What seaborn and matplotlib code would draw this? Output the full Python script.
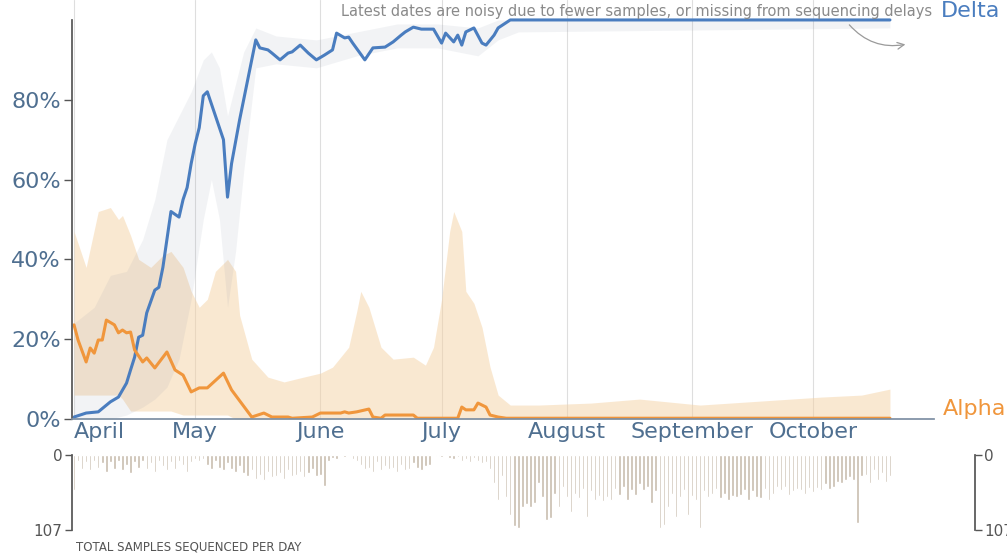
import pandas as pd
import matplotlib.pyplot as plt
import matplotlib.dates as mdates
import seaborn as sns

sns.set_theme(style="white")
plt.rcParams["font.family"] = ["DejaVu Sans"]

# === Data (days counted from 1 April) ===
start = pd.Timestamp("2021-04-01")

delta_day = [0, 3, 6, 9, 11, 13, 14, 15, 16, 17, 18, 20, 21, 22, 23, 24, 26, 27, 28, 29,
             30, 31, 32, 33, 34, 37, 38, 39, 41, 43, 45, 46, 48, 49, 51, 53, 54, 56, 58, 60,
             62, 64, 65, 67, 68, 69, 72, 74, 77, 79, 81, 82, 84, 86, 89, 91, 92, 94, 95, 96,
             97, 99, 101, 102, 104, 105, 108, 110, 202]
delta_pct = [0.5, 1.5, 1.8, 4.3, 5.5, 9, 12.3, 15.5, 20.5, 21, 26.6, 32.3, 33, 38, 45, 52, 50.6, 55, 58, 64,
             69, 73, 81, 82, 79, 70, 55.6, 64, 75, 85, 95, 93, 92.5, 91.7, 90, 91.7, 92, 93.7, 91.7, 90,
             91.2, 92.5, 96.7, 95.5, 95.7, 94.2, 90, 93, 93.2, 94.5, 96.2, 97, 98.2, 97.7, 97.7, 94.2, 96.7, 94.5, 96.2, 93.7,
             97, 98, 94.2, 93.7, 96.2, 98, 100, 100, 100]

alpha_day = [0, 1, 3, 4, 5, 6, 7, 8, 10, 11, 12, 13, 14, 15, 17, 18, 20, 23, 25, 27,
             29, 31, 33, 37, 39, 44, 47, 49, 53, 54, 59, 61, 66, 67, 68, 70, 73, 74, 76, 77,
             84, 85, 95, 96, 97, 99, 100, 102, 103, 105, 107, 202]
alpha_pct = [23.6, 19.8, 14.3, 17.8, 16.5, 19.8, 19.8, 24.8, 23.6, 21.6, 22.3, 21.6, 21.8, 17.3, 14.3, 15.3, 12.8, 16.8, 12.3, 11,
             6.8, 7.8, 7.8, 11.5, 7.3, 0.5, 1.5, 0.5, 0.5, 0.2, 0.5, 1.5, 1.5, 1.8, 1.5, 1.8, 2.5, 0.5, 0.2, 1,
             1, 0.2, 0.2, 3, 2.3, 2.3, 4, 3, 1, 0.5, 0.2, 0.2]

alpha_ci_day = [0, 3, 6, 9, 11, 12, 14, 16, 19, 22, 24, 27, 29, 31, 33, 35, 38, 40, 41, 44,
                48, 52, 56, 61, 64, 68, 70, 71, 73, 76, 79, 84, 87, 89, 91, 93, 94, 96, 97, 99,
                101, 103, 105, 108, 115, 128, 140, 155, 170, 185, 195, 202]
alpha_ci_lo = [6, 6, 6, 6, 6, 5, 2, 2, 2, 2, 2, 1, 1, 1, 1, 1, 1, 0, 0, 0,
               0, 0, 0, 0, 0, 0, 0, 0, 0, 0, 0, 0, 0, 0, 0, 0, 0, 0, 0, 0,
               0, 0, 0, 0, 0, 0, 0, 0, 0, 0, 0, 0]
alpha_ci_hi = [47, 38, 52, 53, 50, 51, 46, 40, 38, 41, 42, 38, 32, 28, 30, 37, 40, 37, 26, 15,
               10.5, 9.3, 10.3, 11.5, 13, 18, 27, 32, 28, 18, 15, 15.5, 13.5, 18, 30, 47, 52, 47, 32, 29,
               23, 13, 6, 3.5, 3.5, 4, 5, 3.5, 4.5, 5.5, 6, 7.5]

delta_ci_day = [0, 5, 9, 13, 17, 20, 23, 26, 29, 32, 34, 36, 38, 40, 42, 45, 50, 60, 70, 80,
                90, 100, 105, 110, 202]
delta_ci_lo = [0, 0, 0, 1, 3, 5, 8, 15, 30, 50, 60, 50, 28, 42, 62, 88, 89, 88, 91, 93,
               93, 91, 95, 97, 98]
delta_ci_hi = [24, 28, 36, 37, 45, 55, 70, 76, 82, 90, 92, 88, 76, 84, 92, 98, 96, 95, 97, 99,
               99, 98, 100, 100, 100]

# total samples sequenced per day, 1 April .. 21 October
samples_apr = [50, 8, 20, 10, 22, 9, 18, 12, 24, 10, 20, 8, 22, 14, 26, 10, 18, 8, 20, 12,
               24, 9, 16, 22, 10, 20, 8, 14, 24, 10]
samples_may = [6, 8, 5, 14, 20, 9, 18, 22, 12, 20, 24, 16, 26, 30, 22, 34, 28, 36, 24, 32,
               30, 26, 34, 22, 30, 28, 24, 32, 26, 20, 30]
samples_jun = [28, 44, 8, 4, 6, 0, 3, 0, 5, 8, 14, 20, 18, 24, 10, 22, 16, 20, 18, 24,
               14, 22, 20, 12, 18, 22, 16, 14, 0, 2]
samples_jul = [3, 0, 4, 5, 3, 8, 6, 10, 4, 8, 12, 10, 20, 40, 64, 30, 60, 85, 102, 104,
               74, 70, 74, 68, 40, 60, 93, 90, 55, 74, 45]
samples_aug = [60, 82, 55, 62, 48, 88, 52, 64, 58, 66, 60, 64, 48, 57, 45, 64, 50, 57, 42, 50,
               46, 69, 52, 104, 100, 74, 55, 88, 60, 50, 86]
samples_sep = [58, 64, 104, 52, 60, 55, 48, 62, 55, 64, 58, 60, 57, 50, 64, 52, 60, 62, 48, 64,
               55, 45, 50, 45, 57, 52, 48, 50, 55, 47]
samples_oct = [53, 47, 50, 42, 48, 45, 38, 40, 35, 31, 36, 97, 30, 28, 40, 22, 36, 25, 38, 30]

months = ["April", "May", "June", "July", "August", "September", "October"]
month_starts = ["2021-04-01", "2021-05-01", "2021-06-01", "2021-07-01",
                "2021-08-01", "2021-09-01", "2021-10-01"]

BLUE = "#4a7dbf"
ORANGE = "#f0963c"
TICK = "#4f6f90"


def to_dates(days):
    return start + pd.to_timedelta(days, unit="D")


def day(d):
    return to_dates([d])[0]


samples = samples_apr + samples_may + samples_jun + samples_jul + samples_aug + samples_sep + samples_oct
sample_dates = to_dates(list(range(len(samples))))

delta_df = pd.DataFrame({"date": to_dates(delta_day), "pct": delta_pct})
alpha_df = pd.DataFrame({"date": to_dates(alpha_day), "pct": alpha_pct})

fig = plt.figure(figsize=(10.07, 5.59), dpi=100)
ax = fig.add_axes([0.0715, 0.2504, 0.8965, 0.7496])
bx = fig.add_axes([0.0715, 0.0519, 0.8965, 0.134])

x_min = day(-0.5)
x_max = day(223)

# === Main panel: uncertainty bands ===
ax.fill_between(to_dates(alpha_ci_day), alpha_ci_lo, alpha_ci_hi,
                color="#f5d2a4", alpha=0.5, lw=0)
ax.fill_between(to_dates(delta_ci_day), delta_ci_lo, delta_ci_hi,
                color="#76839a", alpha=0.09, lw=0)

# === lines ===
sns.lineplot(data=delta_df, x="date", y="pct", ax=ax, color=BLUE, lw=2.2)
sns.lineplot(data=alpha_df, x="date", y="pct", ax=ax, color=ORANGE, lw=2.2)

ax.set_xlim(x_min, x_max)
ax.set_ylim(0, 105)
ax.set_xlabel("")
ax.set_ylabel("")

ax.set_xticks(pd.to_datetime(month_starts))
ax.set_xticklabels(months, fontsize=16, color=TICK)
ax.get_xticklabels()[0].set_ha("left")
ax.tick_params(axis="x", length=0, pad=2)
ax.grid(axis="x", color="#dedede", lw=0.8)

ax.set_yticks([0, 20, 40, 60, 80])
ax.set_yticklabels(["0%", "20%", "40%", "60%", "80%"], fontsize=16, color=TICK)
ax.tick_params(axis="y", left=True, length=6, width=1, color="#555555", pad=2)

for side in ["top", "right"]:
    ax.spines[side].set_visible(False)
ax.spines["left"].set_color("#555555")
ax.spines["left"].set_bounds(0, 100)
ax.spines["bottom"].set_color("#7d8fa3")
ax.spines["bottom"].set_bounds(mdates.date2num(x_min), mdates.date2num(day(213)))

# labels and note
ax.text(day(214.5), 102.3, "Delta", color=BLUE, fontsize=16, va="center", ha="left")
ax.text(day(215), 2.5, "Alpha", color=ORANGE, fontsize=16, va="center", ha="left")
ax.text(day(212.5), 102, "Latest dates are noisy due to fewer samples, or missing from sequencing delays",
        color="#8a8a8a", fontsize=10.5, va="center", ha="right")
ax.annotate("", xy=(day(206.5), 94), xytext=(day(191.5), 99.3),
            arrowprops=dict(arrowstyle="->", color="#9a9a9a", lw=0.9,
                            connectionstyle="arc3,rad=0.3"))

# === Bottom panel: samples per day ===
bx.bar(sample_dates, samples, width=0.6, color="#c8bcae")
bx.set_xlim(x_min, x_max)
bx.set_ylim(107, 0)
bx.set_xticks([])
bx.set_yticks([0, 107])
bx.set_yticklabels(["0", "107"], fontsize=11, color="#555555")
bx.tick_params(axis="y", left=True, right=True, labelleft=True, labelright=True,
               length=5, width=1, color="#555555", pad=2)
for side in ["top", "bottom"]:
    bx.spines[side].set_visible(False)
for side in ["left", "right"]:
    bx.spines[side].set_color("#555555")

fig.text(0.075, 0.016, "TOTAL SAMPLES SEQUENCED PER DAY", fontsize=8.5, color="#555555")

plt.savefig("out.png", dpi=100)
